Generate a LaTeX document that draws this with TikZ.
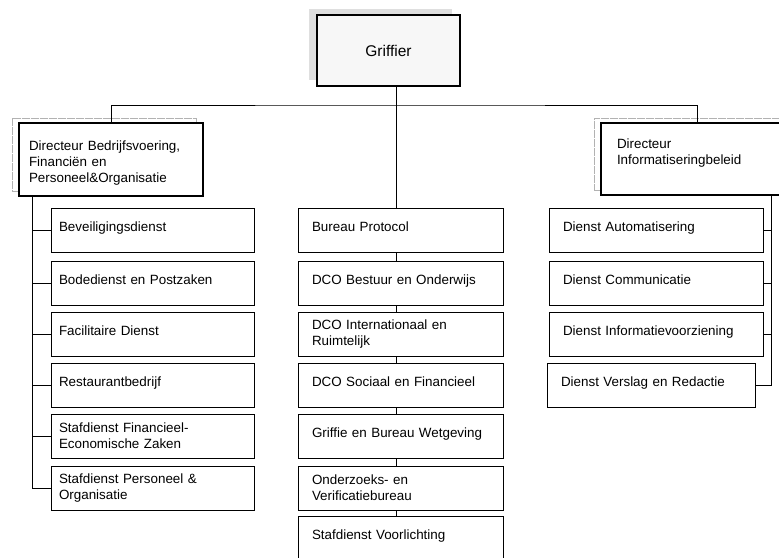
\documentclass[tikz,border=0pt]{standalone}
\usepackage{fontspec}
\setmainfont{Liberation Sans}
\usetikzlibrary{shadows}
\begin{document}
\begin{tikzpicture}[x=1pt, y=-1pt, line cap=rect,
    chief/.style={draw, line width=2.4pt, fill=white, align=left,
      font=\fontsize{13.4}{16}\selectfont},
    ghost/.style={general shadow={draw=gray!60, densely dotted, line width=0.8pt,
      fill=white, shadow xshift=-7pt, shadow yshift=5pt}},
    unit/.style={draw, line width=0.8pt, fill=white, minimum height=44pt,
      inner ysep=0pt, align=left, font=\fontsize{13.4}{16}\selectfont},
    oneline/.style={text depth=7pt},
    twoline/.style={},
    link/.style={line width=0.8pt}]
  \useasboundingbox (0,0) rectangle (779,557);
  % griffier met schaduw
  \node[chief, fill=gray!6, align=center, minimum width=143pt, minimum height=71pt,
    font=\fontsize{15.5}{18}\selectfont,
    general shadow={fill=gray!25, shadow xshift=-8pt, shadow yshift=6pt}]
    (griffier) at (388.5,50.5) {Griffier};
  % directeuren
  \node[chief, ghost, minimum width=184pt, minimum height=73pt, inner xsep=10pt,
    text width=164pt, text depth=27pt] (dirL) at (111,159.5)
    {Directeur Bedrijfsvoering,\\Financiën en\\Personeel\&Organisatie};
  \node[chief, ghost, minimum width=192pt, minimum height=72pt, inner xsep=16pt,
    text width=160pt, text depth=31pt] (dirR) at (697,159)
    {Directeur\\Informatiseringbeleid};
  % linker kolom
  \foreach \name/\y/\k/\txt in {l1/230.5/oneline/Beveiligingsdienst,
      l2/283/oneline/Bodedienst en Postzaken,
      l3/334/oneline/Facilitaire Dienst,
      l4/385/oneline/Restaurantbedrijf,
      l5/436/twoline/Stafdienst Financieel-\\Economische Zaken,
      l6/488/twoline/Stafdienst Personeel \&\\Organisatie}
    \node[unit, \k, inner xsep=8pt, text width=187pt] (\name) at (152.5,\y) {\txt};
  % middelste kolom
  \foreach \name/\y/\k/\txt in {m1/230.5/oneline/Bureau Protocol,
      m2/283/oneline/DCO Bestuur en Onderwijs,
      m3/334/twoline/DCO Internationaal en\\Ruimtelijk,
      m4/385/oneline/DCO Sociaal en Financieel,
      m5/436/oneline/Griffie en Bureau Wetgeving,
      m6/488/twoline/Onderzoeks- en\\Verificatiebureau,
      m7/538/oneline/Stafdienst Voorlichting}
    \node[unit, \k, inner xsep=14pt, text width=177pt] (\name) at (400.5,\y) {\txt};
  % rechter kolom
  \foreach \name/\y/\txt in {r1/230.5/Dienst Automatisering,
      r2/283/Dienst Communicatie, r3/334/Dienst Informatievoorziening}
    \node[unit, oneline, inner xsep=14pt, text width=186pt] (\name) at (656,\y) {\txt};
  \node[unit, oneline, inner xsep=14pt, text width=180pt] (r4) at (651,385)
    {Dienst Verslag en Redactie};
  % verbindingen
  \coordinate (trunk) at (396,105);
  \coordinate (lspine) at (32,196);
  \coordinate (rspine) at (771,195);
  \draw[link] (griffier.south -| trunk) -- (trunk);
  \draw[link] (dirL.north) |- (trunk) -| (dirR.north);
  \draw[link] (trunk) -- (m1.north -| trunk);
  \foreach \a/\b in {m1/m2, m2/m3, m3/m4, m4/m5, m5/m6, m6/m7}
    \draw[link] (\a.south -| trunk) -- (\b.north -| trunk);
  \draw[link] (lspine) |- (l6.west);
  \foreach \n in {l1, l2, l3, l4, l5}
    \draw[link] (lspine |- \n.west) -- (\n.west);
  \draw[link] (rspine) |- (r4.east);
  \foreach \n in {r1, r2, r3}
    \draw[link] (\n.east) -- (rspine |- \n.east);
\end{tikzpicture}
\end{document}
